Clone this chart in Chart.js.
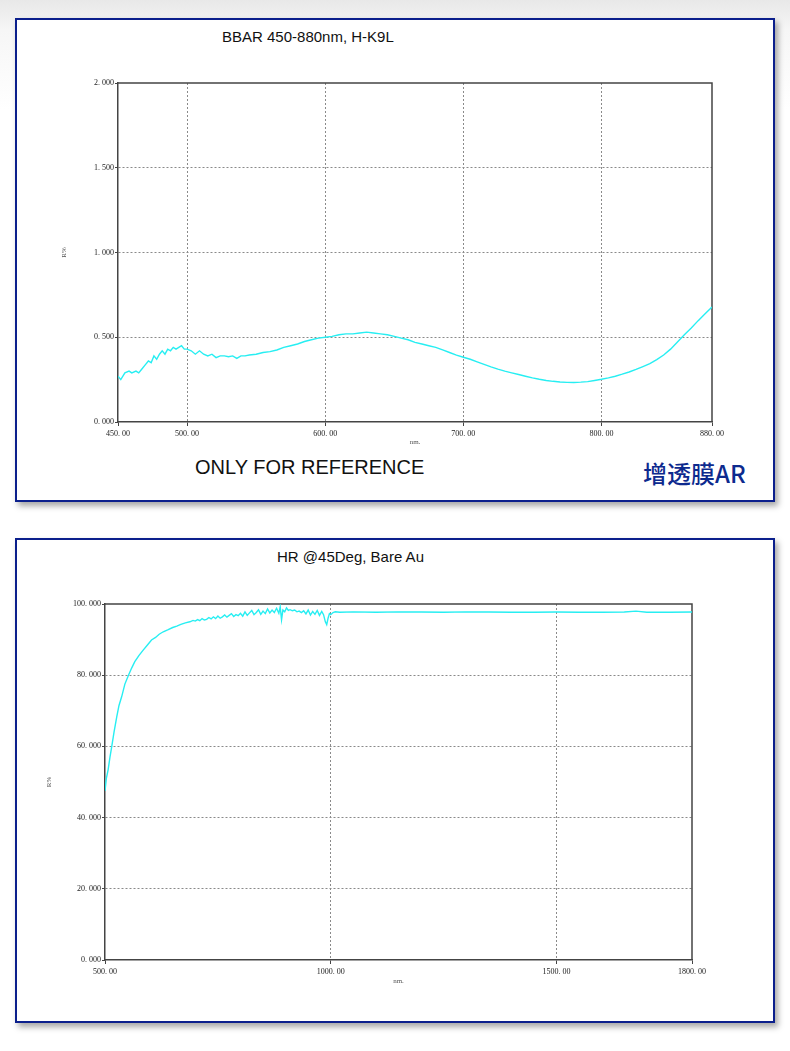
<!DOCTYPE html>
<html>
<head>
<meta charset="utf-8">
<script src="https://cdn.jsdelivr.net/npm/chart.js@4.4.1/dist/chart.umd.min.js"></script>
<style>
body{margin:0;width:790px;height:1051px;position:relative;overflow:hidden;
  background:linear-gradient(#e8e8e8 0px,#f6f6f6 30px,#fff 110px);
  font-family:"Liberation Sans",Arial,sans-serif;}
.panel{position:absolute;left:15px;width:756px;background:#fff;border:2px solid #0b1f8c;
  box-shadow:3px 4px 6px rgba(0,0,0,.35);}
.txt{position:absolute;white-space:nowrap;color:#111;line-height:1;}
.box{position:absolute;}
</style>
</head>
<body>
<div class="panel" style="top:18px;height:480px;"></div>
<div class="panel" style="top:538px;height:481px;"></div>

<div class="txt" style="left:222px;top:29px;font-size:15px;">BBAR 450-880nm, H-K9L</div>
<div class="txt" style="left:195px;top:457px;font-size:20px;">ONLY FOR REFERENCE</div>
<div class="txt" style="left:643px;top:461px;font-size:24px;font-weight:500;color:#0d2a8e;font-family:'Noto Sans CJK SC','Liberation Sans',sans-serif;">增透膜AR</div>
<div class="txt" style="left:277px;top:549px;font-size:15px;">HR @45Deg, Bare Au</div>

<div class="box" style="left:40px;top:60px;"><canvas id="arChart" width="700" height="400"></canvas></div>
<div class="box" style="left:30px;top:580px;"><canvas id="hrChart" width="700" height="430"></canvas></div>

<script>
// BBAR 450-880nm, H-K9L  (R% vs nm)
const arWavelength = [450,452,455,458,460,463,465,467,470,472,474,476,478,480,482,484,486,488,490,492,494,496,498,
  500,503,506,509,512,515,518,521,524,527,530,533,536,539,542,545,550,555,560,565,570,575,580,585,590,595,
  600,605,610,615,620,625,630,635,640,645,650,655,660,665,670,675,680,685,690,695,
  700,705,710,715,720,725,730,735,740,745,750,755,760,765,770,775,780,785,790,795,
  800,805,810,815,820,825,830,835,840,845,850,855,860,865,870,875,880];
const arReflect = [0.27,0.25,0.29,0.30,0.29,0.30,0.29,0.31,0.34,0.36,0.35,0.39,0.37,0.40,0.42,0.40,0.43,0.42,0.44,0.43,0.44,0.45,0.43,
  0.43,0.42,0.40,0.42,0.40,0.39,0.40,0.38,0.39,0.39,0.385,0.39,0.375,0.39,0.39,0.395,0.40,0.41,0.415,0.425,0.44,0.45,0.46,0.475,0.485,0.495,
  0.50,0.505,0.515,0.52,0.52,0.525,0.53,0.525,0.52,0.515,0.505,0.495,0.485,0.47,0.46,0.45,0.44,0.425,0.41,0.395,
  0.382,0.37,0.355,0.34,0.325,0.312,0.30,0.29,0.28,0.27,0.26,0.252,0.245,0.24,0.236,0.234,0.233,0.235,0.238,0.245,
  0.252,0.26,0.27,0.282,0.295,0.31,0.327,0.345,0.368,0.395,0.43,0.472,0.515,0.555,0.598,0.638,0.678];
const arXTicks = [450,500,600,700,800,880];
const arYTicks = [0,0.5,1.0,1.5,2.0];

// HR @45Deg, Bare Au
const hrWavelength = [500,503,507,511,515,520,526,531,537,544,552,559,566,575,585,594,603,612,620,629,640,650,659,668,678,688,695,
  700,705,710,715,720,725,730,735,740,745,750,755,760,765,770,775,780,785,790,795,
  800,805,810,815,820,825,830,835,840,845,850,855,860,865,870,875,880,885,888,891,894,898,
  902,906,910,915,920,925,930,935,940,945,950,955,960,965,970,975,980,984,988,991,994,997,
  1000,1005,1010,1020,1050,1100,1150,1200,1250,1300,1350,1400,1450,1500,1550,1600,1650,1676,1700,1750,1800];
const hrReflect = [47.5,51,53.5,57,60,64,68.3,71.5,74,77.5,80,82,83.8,85.5,87.1,88.5,89.9,90.6,91.5,92.2,92.8,93.4,93.8,94.3,94.7,95.0,95.4,
  95.2,95.6,95.3,95.9,95.5,95.7,96.2,95.8,96.4,95.9,96.6,96.0,96.4,96.9,96.3,96.8,97.3,96.5,97.0,96.7,
  97.4,96.6,97.8,96.8,97.5,98.2,97.0,97.6,98.4,97.1,98.0,97.3,98.6,97.5,98.3,97.6,98.8,97.4,99.2,95.6,98.3,97.8,
  98.9,98.2,98.4,98.1,98.3,97.8,98.0,97.6,98.1,97.2,98.3,96.9,97.9,97.1,98.2,96.8,97.9,97.0,95.0,94.2,96.0,97.3,
  97.0,97.6,97.8,97.7,97.8,97.7,97.8,97.75,97.7,97.8,97.75,97.7,97.7,97.75,97.7,97.7,97.75,98.0,97.7,97.7,97.75];
const hrXTicks = [500,1000,1500,1800];
const hrYTicks = [0,20,40,60,80,100];

const tickFont = {family: "'Liberation Serif','DejaVu Serif',serif", size: 8};
const lineColor = '#27eef2';

const framePlugin = {
  id: 'frame',
  beforeDatasetsDraw(chart) {
    const {ctx, chartArea: a} = chart;
    ctx.save();
    ctx.strokeStyle = '#444';
    ctx.lineWidth = 1.5;
    ctx.beginPath();
    ctx.moveTo(a.left, a.top);
    ctx.lineTo(a.right, a.top);
    ctx.lineTo(a.right, a.bottom);
    ctx.stroke();
    ctx.restore();
  }
};

function makeChart(id, xs, ys, xTicks, yTicks, opt) {
  const n = (t) => t.length - 1;
  return new Chart(document.getElementById(id), {
    type: 'line',
    data: {
      datasets: [{
        data: xs.map((x, i) => ({x: x, y: ys[i]})),
        borderColor: lineColor,
        borderWidth: 1.4,
        pointRadius: 0,
        tension: 0,
        fill: false
      }]
    },
    options: {
      responsive: false,
      animation: false,
      layout: {padding: opt.padding},
      plugins: {legend: {display: false}, tooltip: {enabled: false}},
      scales: {
        x: {
          type: 'linear',
          min: xTicks[0],
          max: xTicks[n(xTicks)],
          afterBuildTicks: (s) => { s.ticks = xTicks.map(v => ({value: v})); },
          afterFit: (s) => { s.height = opt.xHeight; },
          ticks: {
            autoSkip: false, maxRotation: 0, padding: 3, color: '#222', font: tickFont,
            callback: (v) => Number(v).toFixed(2).replace('.', '. ')
          },
          grid: {
            color: (c) => (c.index === 0 || c.index === n(xTicks)) ? 'rgba(0,0,0,0)' : '#8a8a8a',
            tickColor: '#444', tickLength: 4, lineWidth: 1
          },
          border: {color: '#444', width: 1.5, dash: [2, 2]},
          title: {display: true, text: 'nm.', color: '#555', font: {family: tickFont.family, size: 7},
            padding: {top: 0, bottom: opt.xTitlePad}}
        },
        y: {
          min: yTicks[0],
          max: yTicks[n(yTicks)],
          afterBuildTicks: (s) => { s.ticks = yTicks.map(v => ({value: v})); },
          afterFit: (s) => { s.width = opt.yWidth; },
          ticks: {
            autoSkip: false, padding: 1, color: '#222', font: tickFont,
            callback: (v) => Number(v).toFixed(3).replace('.', '. ')
          },
          grid: {
            color: (c) => (c.index === 0 || c.index === n(yTicks)) ? 'rgba(0,0,0,0)' : '#8a8a8a',
            tickColor: '#444', tickLength: 3, lineWidth: 1
          },
          border: {color: '#444', width: 1.5, dash: [2, 2]},
          title: {display: true, text: 'R%', color: '#555', font: {family: tickFont.family, size: 7},
            padding: {top: opt.yTitlePad, bottom: 0}}
        }
      }
    },
    plugins: [framePlugin]
  });
}

makeChart('arChart', arWavelength, arReflect, arXTicks, arYTicks,
  {padding: {left: 0, top: 23, right: 28, bottom: 0}, xHeight: 38, yWidth: 78, xTitlePad: 14, yTitlePad: 20});
makeChart('hrChart', hrWavelength, hrReflect, hrXTicks, hrYTicks,
  {padding: {left: 0, top: 24, right: 38, bottom: 15}, xHeight: 35, yWidth: 75, xTitlePad: 10, yTitlePad: 15});
</script>
</body>
</html>
